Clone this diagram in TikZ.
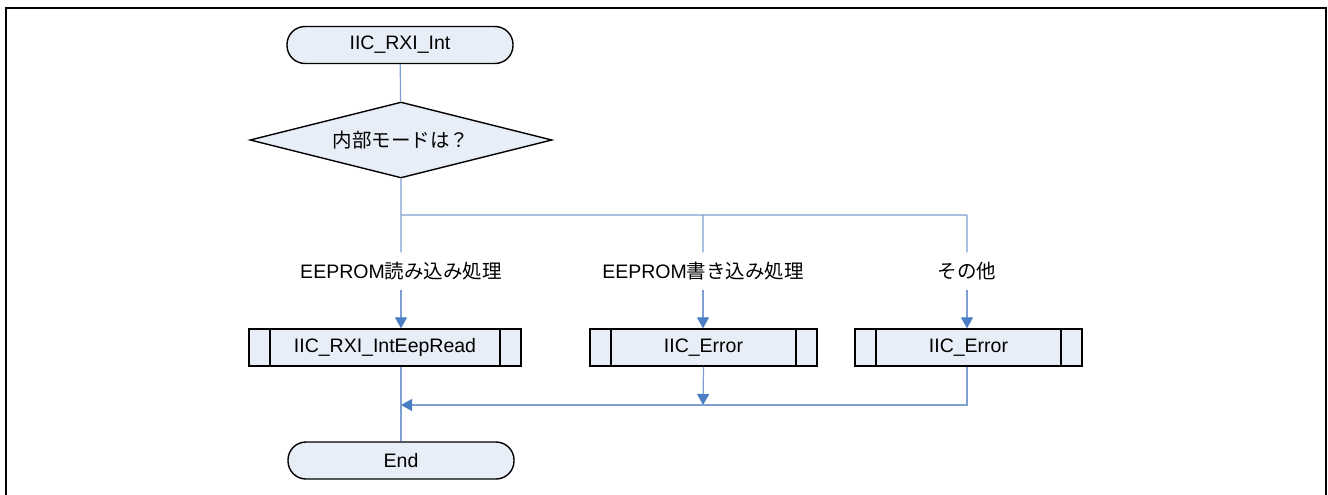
\documentclass[tikz,border=0pt]{standalone}
\usepackage{fontspec}
\setmainfont{Liberation Sans}
\newfontfamily\jpfont{Noto Sans CJK JP}
\usepackage{tikz}
\usetikzlibrary{arrows.meta, positioning, shapes.geometric}
\usepackage{xcolor}
\definecolor{boxfill}{HTML}{E8EEF7}
\definecolor{flowline}{HTML}{7F9FD3}
\definecolor{arrowblue}{HTML}{4A7EC4}

\begin{document}
\begin{tikzpicture}[x=1pt,y=-1pt,font=\fontsize{19.5}{22}\selectfont]
  \tikzstyle{term}=[draw,line width=1.4pt,fill=boxfill,rounded corners=18pt,
    minimum width=226pt,minimum height=37pt,inner sep=0pt]
  \tikzstyle{decide}=[diamond,draw,line width=1.4pt,fill=boxfill,aspect=3.97,
    minimum width=302pt,minimum height=76pt,inner sep=0pt]
  \tikzstyle{subproc}=[draw,line width=1.4pt,fill=boxfill,minimum height=37pt,inner sep=0pt,
    path picture={\draw[line width=1.4pt]
      ([xshift=21pt]path picture bounding box.north west) -- ([xshift=21pt]path picture bounding box.south west)
      ([xshift=-21pt]path picture bounding box.north east) -- ([xshift=-21pt]path picture bounding box.south east);}]
  \tikzstyle{case}=[minimum height=37pt,inner sep=0pt]
  \tikzstyle{flow}=[draw=flowline,line width=1.2pt]
  \tikzstyle{arr}=[flow,-{Triangle[length=11pt,width=12pt,color=arrowblue,fill=arrowblue]}]

  \useasboundingbox (0,0) rectangle (1328,495);
  \draw[line width=2pt] (5.5,495) -- (5.5,8.5) -- (1325.5,8.5) -- (1325.5,495);

  \node[term]   (start) at (400,45)    {IIC\_RXI\_Int};
  \node[decide] (mode)  at (401,140)   {\jpfont 内部モードは？};

  \coordinate (b1) at (401,215);
  \coordinate (b2) at (703,215);
  \coordinate (b3) at (967,215);

  \node[case] (c1) at (401,271) {EEPROM{\jpfont 読み込み処理}};
  \node[case] (c2) at (703,271) {EEPROM{\jpfont 書き込み処理}};
  \node[case] (c3) at (967,271) {\jpfont その他};

  \node[subproc,minimum width=272pt] (rd)   at (385,347.5)   {IIC\_RXI\_IntEepRead};
  \node[subproc,minimum width=227pt] (err1) at (703.5,347.5) {IIC\_Error};
  \node[subproc,minimum width=227pt] (err2) at (968.5,347.5) {IIC\_Error};

  \coordinate (m1) at (401,405);
  \coordinate (m2) at (703,405);

  \node[term] (stop) at (401,460.5) {End};

  \path[flow]
  (start) -- (mode)
  (mode) -- (b1)
  (b1) -- (b3)
  (b1) -- (c1.north)
  (b2) -- (c2.north)
  (b3) -- (c3.north)
  ;
  \draw[arr] (c1) -- (c1 |- rd.north);
  \draw[arr] (c2) -- (c2 |- err1.north);
  \draw[arr] (c3) -- (c3 |- err2.north);
  \draw[arr] (err1.south) -- (m2);
  \draw[arr] (c3 |- err2.south) |- (m1);
  \draw[flow] (m1 |- rd.south) -- (stop.north);
\end{tikzpicture}
\end{document}
